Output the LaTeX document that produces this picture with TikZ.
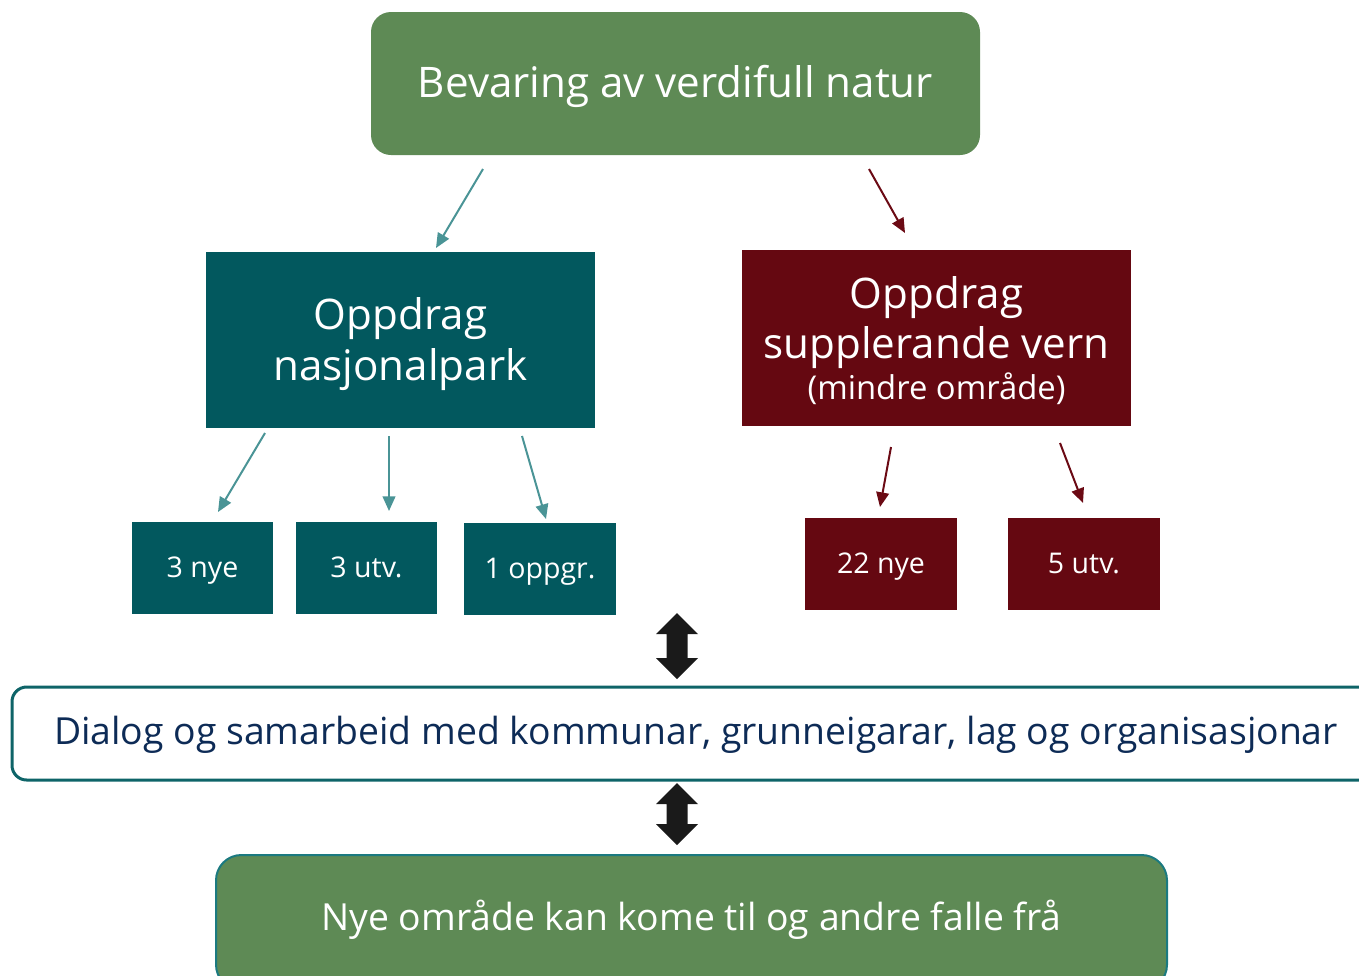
\documentclass[tikz,border=0pt]{standalone}
\usepackage{fontspec}
\setmainfont{Open Sans}
\usetikzlibrary{arrows.meta}
\definecolor{boxgreen}{HTML}{5E8A55}
\definecolor{boxteal}{HTML}{02585E}
\definecolor{boxred}{HTML}{650811}
\definecolor{arrteal}{HTML}{4A9496}
\definecolor{arrred}{HTML}{6B0A14}
\definecolor{dlgborder}{HTML}{0E6468}
\definecolor{dlgtext}{HTML}{0D2B56}
\definecolor{btmborder}{HTML}{1B7A80}
\definecolor{dblarrow}{HTML}{1A1A1A}
\tikzset{
  pbox/.style={inner sep=0pt, align=center, text=white},
  greenbox/.style={pbox, fill=boxgreen, rounded corners=15pt},
  tealbox/.style={pbox, fill=boxteal},
  redbox/.style={pbox, fill=boxred},
  bigfont/.style={font=\fontsize{31.6}{37}\selectfont},
  btext/.style={anchor=base, text=white, inner sep=0pt},
  smalltext/.style={font=\fontsize{21.4}{25}\selectfont, text height=13.5pt, text depth=0pt},
  tealarrow/.style={draw=arrteal, line width=1.5pt, -{Triangle[length=11pt,width=9.5pt]}},
  redarrow/.style={draw=arrred, line width=1.5pt, -{Triangle[length=11pt,width=9.5pt]}},
  dbl/.style={fill=dblarrow, draw=none}
}
\begin{document}
\begin{tikzpicture}[x=0.75pt,y=-0.75pt]
\useasboundingbox (0,0) rectangle (1359,975);
\clip (0,0) rectangle (1359,975);
% top
\node[greenbox, minimum width=456.75pt, minimum height=107.25pt, font=\fontsize{31.6}{37}\selectfont,
  text height=20.25pt, text depth=0pt] (top) at (675.5,83.5) {Bevaring av verdifull natur};
% main boxes
\node[tealbox, minimum width=291.75pt, minimum height=132pt] (np) at (400.5,340) {};
\node[btext, bigfont] (np1) at (400.5,329) {Oppdrag};
\node[btext, bigfont] (np2) at (400.5,380) {nasjonalpark};
\node[redbox, minimum width=291.75pt, minimum height=132pt] (sv) at (936.5,338) {};
\node[btext, bigfont] (sv1) at (936.5,308) {Oppdrag};
\node[btext, bigfont] (sv2) at (936.5,358) {supplerande vern};
\node[btext, font=\fontsize{24.6}{29}\selectfont] (sv3) at (936.5,399) {(mindre område)};
% small boxes
\node[tealbox, smalltext, minimum width=105.75pt, minimum height=69pt] (t1) at (202.5,568) {3 nye};
\node[tealbox, smalltext, minimum width=105.75pt, minimum height=69pt] (t2) at (366.5,568) {3 utv.};
\node[tealbox, smalltext, minimum width=114pt, minimum height=69pt] (t3) at (540,569) {1 oppgr.};
\node[redbox, smalltext, minimum width=114pt, minimum height=69pt] (r1) at (881,564) {22 nye};
\node[redbox, smalltext, minimum width=114pt, minimum height=69pt] (r2) at (1084,564) {5 utv.};
% dialog
\node[draw=dlgborder, line width=2.25pt, rounded corners=11pt, fill=white, text=dlgtext, inner sep=0pt,
  minimum width=1026pt, minimum height=69.75pt, font=\fontsize{28}{33}\selectfont,
  text height=17pt, text depth=0pt] (dlg) at (696,733.5)
  {Dialog og samarbeid med kommunar, grunneigarar, lag og organisasjonar};
% bottom
\node[greenbox, draw=btmborder, line width=1.5pt, rounded corners=19pt, minimum width=713.25pt, minimum height=101.25pt] (btm) at (691.5,922.5) {};
\node[btext, font=\fontsize{28}{33}\selectfont] (btmtext) at (691.5,930) {Nye område kan kome til og andre falle frå};
% connector coordinates
\coordinate (a1s) at (483,169); \coordinate (a1e) at (436,248);
\coordinate (a2s) at (869,169); \coordinate (a2e) at (905,233);
\coordinate (b1s) at (265,433); \coordinate (b1e) at (218,512);
\coordinate (b2s) at (389,436); \coordinate (b2e) at (389,511);
\coordinate (b3s) at (522,436); \coordinate (b3e) at (546,519);
\coordinate (c1s) at (891,447); \coordinate (c1e) at (880,507);
\coordinate (c2s) at (1060,443); \coordinate (c2e) at (1083,503);
\draw[tealarrow] (a1s) -- (a1e);
\draw[redarrow] (a2s) -- (a2e);
\draw[tealarrow] (b1s) -- (b1e);
\draw[tealarrow] (b2s) -- (b2e);
\draw[tealarrow] (b3s) -- (b3e);
\draw[redarrow] (c1s) -- (c1e);
\draw[redarrow] (c2s) -- (c2e);
% double arrows
\fill[dbl] (677,613) -- (698,634) -- (687.5,634) -- (687.5,658) -- (698,658) -- (677,679) -- (656,658) -- (666.5,658) -- (666.5,634) -- (656,634) -- cycle;
\fill[dbl] (677,783) -- (698,804) -- (687.5,804) -- (687.5,824) -- (698,824) -- (677,845) -- (656,824) -- (666.5,824) -- (666.5,804) -- (656,804) -- cycle;
\end{tikzpicture}
\end{document}
